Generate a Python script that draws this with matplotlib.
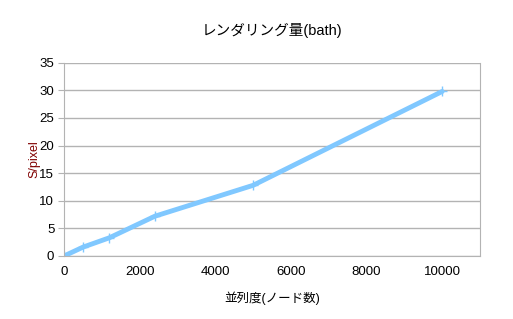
import matplotlib
matplotlib.use("Agg")
import matplotlib.pyplot as plt

plt.rcParams['font.family'] = ['Liberation Sans', 'Noto Sans CJK JP', 'DejaVu Sans']

nodes = [0, 500, 1200, 2400, 5000, 10000]
s_per_pixel = [0, 1.6, 3.3, 7.2, 12.8, 29.8]

fig = plt.figure(figsize=(5.13, 3.19), dpi=100)
ax = fig.add_axes([0.1248, 0.1975, 0.8109, 0.6058])

ax.plot(nodes, s_per_pixel, color="#80c8ff", linewidth=3.5, marker="+",
        markersize=7, markeredgewidth=1, solid_capstyle="round")

ax.set_xlim(0, 11000)
ax.set_ylim(0, 35)
ax.set_xticks([0, 2000, 4000, 6000, 8000, 10000])
ax.set_yticks(range(0, 36, 5))
ax.yaxis.grid(True, color="#b3b3b3", linewidth=1)
ax.set_axisbelow(True)
for s in ax.spines.values():
    s.set_color("#b3b3b3")
ax.spines['top'].set_visible(False)
ax.tick_params(axis='y', length=4, color="#b3b3b3", labelsize=9.5, pad=3)
ax.tick_params(axis='x', length=0, labelsize=9.5, pad=7)

ax.set_title("レンダリング量(bath)", fontsize=10.5, pad=20)
ax.set_xlabel("並列度(ノード数)", fontsize=9, labelpad=10)
ax.set_ylabel("S/pixel", fontsize=9, color="#800000", labelpad=-1)

fig.savefig("out.png", dpi=100)
